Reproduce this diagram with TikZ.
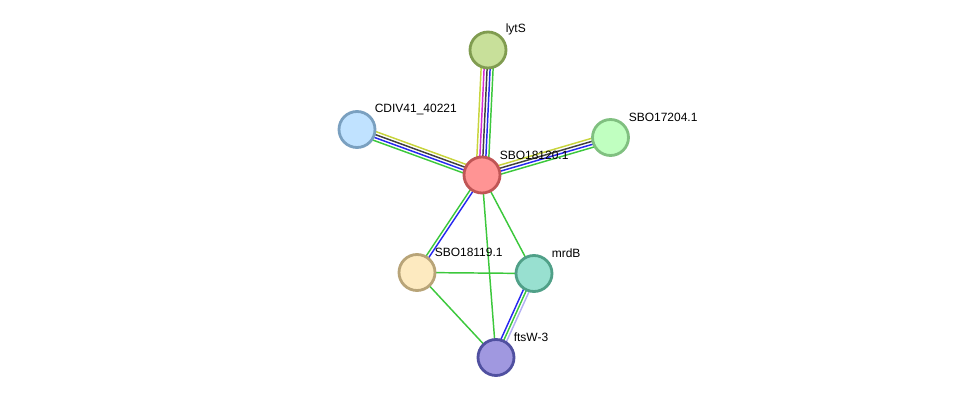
\documentclass[tikz,border=0pt]{standalone}
\usepackage{fontspec}
\setmainfont{Liberation Sans}
\usetikzlibrary{calc,backgrounds}
\definecolor{ctm}{HTML}{C8D43C}
\definecolor{cco}{HTML}{404040}
\definecolor{cex}{HTML}{D22BD2}
\definecolor{cbl}{HTML}{2828F0}
\definecolor{cgr}{HTML}{3CC83C}
\definecolor{clv}{HTML}{B4B0F4}
\tikzset{
  prot/.style={circle, minimum size=27pt, inner sep=0pt, line width=2.1pt},
  lbl/.style={anchor=west, inner sep=0pt, font=\fontsize{9pt}{10pt}\selectfont},
  edg/.style={line width=1.1pt},
}
% \edgeline{from}{to}{offset in px}{colour}
\newcommand{\edgeline}[4]{\draw[edg,#4] ($(#1.center)!#3*0.75pt!90:(#2.center)$) -- ($(#2.center)!#3*0.75pt!-90:(#1.center)$);}
\begin{document}
\begin{tikzpicture}[x=0.75pt,y=0.75pt]
\useasboundingbox (0,0) rectangle (975,403);
\node[prot, draw={rgb,255:red,192;green,85;blue,85}, fill={rgb,255:red,255;green,148;blue,148}] (red) at (482,228) {};
\node[prot, draw={rgb,255:red,128;green,156;blue,80}, fill={rgb,255:red,200;green,224;blue,154}] (lyts) at (488,353) {};
\node[prot, draw={rgb,255:red,122;green,160;blue,192}, fill={rgb,255:red,192;green,226;blue,255}] (cdiv) at (357,273.5) {};
\node[prot, draw={rgb,255:red,128;green,192;blue,128}, fill={rgb,255:red,192;green,255;blue,192}] (s17) at (610.5,265.5) {};
\node[prot, draw={rgb,255:red,184;green,164;blue,120}, fill={rgb,255:red,253;green,234;blue,192}] (s19) at (417,130.5) {};
\node[prot, draw={rgb,255:red,80;green,160;blue,136}, fill={rgb,255:red,152;green,224;blue,208}] (mrdb) at (534,129.5) {};
\node[prot, draw={rgb,255:red,80;green,80;blue,160}, fill={rgb,255:red,160;green,152;blue,224}] (ftsw) at (496,45.5) {};
\node[lbl] (l1) at (505.5,373.5) {lytS};
\node[lbl] (l2) at (374.5,293.5) {CDIV41\_40221};
\node[lbl] (l3) at (628.5,285.5) {SBO17204.1};
\node[lbl] (l4) at (499.5,247.5) {SBO18120.1};
\node[lbl] (l5) at (434.5,150.5) {SBO18119.1};
\node[lbl] (l6) at (551.5,149.5) {mrdB};
\node[lbl] (l7) at (513.5,65.5) {ftsW-3};
\begin{scope}[on background layer]
\edgeline{red}{lyts}{6}{ctm}
\edgeline{red}{lyts}{3}{cex}
\edgeline{red}{lyts}{0}{cco}
\edgeline{red}{lyts}{-3}{cbl}
\edgeline{red}{lyts}{-6}{cgr}
\edgeline{cdiv}{red}{4.5}{ctm}
\edgeline{cdiv}{red}{1.5}{cco}
\edgeline{cdiv}{red}{-1.5}{cbl}
\edgeline{cdiv}{red}{-4.5}{cgr}
\edgeline{red}{s17}{4.5}{ctm}
\edgeline{red}{s17}{1.5}{cco}
\edgeline{red}{s17}{-1.5}{cbl}
\edgeline{red}{s17}{-4.5}{cgr}
\edgeline{red}{s19}{1.5}{cbl}
\edgeline{red}{s19}{-1.5}{cgr}
\edgeline{mrdb}{ftsw}{3}{clv}
\edgeline{mrdb}{ftsw}{0}{cgr}
\edgeline{mrdb}{ftsw}{-3}{cbl}
\edgeline{red}{mrdb}{0}{cgr}
\edgeline{red}{ftsw}{0}{cgr}
\edgeline{s19}{mrdb}{0}{cgr}
\edgeline{s19}{ftsw}{0}{cgr}
\end{scope}
\end{tikzpicture}
\end{document}
